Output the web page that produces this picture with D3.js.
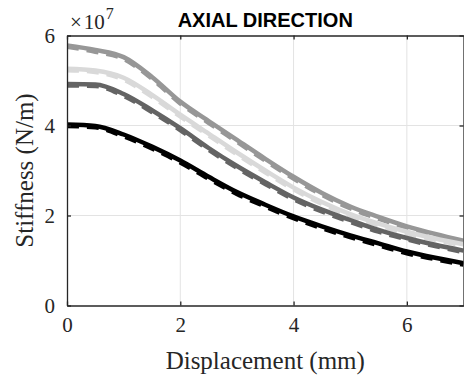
<!DOCTYPE html>
<html>
<head>
<meta charset="utf-8">
<script src="https://d3js.org/d3.v7.min.js"></script>
<style>
  body { margin: 0; background: #fff; }
  svg { display: block; }
</style>
</head>
<body>
<div id="chart"></div>
<script>
// displacement (mm)
var disp = [0, 0.5, 1, 1.5, 2, 2.5, 3, 3.5, 4, 4.5, 5, 5.5, 6, 6.5, 7];

// stiffness, in units of 1e7 N/m
var midGrey     = [5.78, 5.68, 5.52, 5.08, 4.53, 4.10, 3.68, 3.26, 2.86, 2.50, 2.20, 1.97, 1.76, 1.59, 1.44];
var midGreyDash = [5.75, 5.64, 5.48, 5.04, 4.49, 4.06, 3.64, 3.22, 2.82, 2.46, 2.16, 1.93, 1.73, 1.56, 1.41];
var lightGrey     = [5.26, 5.22, 5.06, 4.68, 4.24, 3.82, 3.40, 3.00, 2.62, 2.30, 2.03, 1.82, 1.64, 1.49, 1.36];
var lightGreyDash = [5.23, 5.19, 5.02, 4.64, 4.20, 3.78, 3.36, 2.96, 2.58, 2.26, 1.99, 1.78, 1.60, 1.46, 1.33];
var darkGrey     = [4.92, 4.91, 4.70, 4.34, 3.94, 3.50, 3.10, 2.74, 2.40, 2.13, 1.90, 1.68, 1.50, 1.35, 1.22];
var darkGreyDash = [4.89, 4.88, 4.66, 4.30, 3.90, 3.46, 3.06, 2.70, 2.36, 2.09, 1.86, 1.64, 1.47, 1.32, 1.19];
var black     = [4.02, 3.99, 3.80, 3.53, 3.22, 2.86, 2.52, 2.24, 1.98, 1.76, 1.56, 1.38, 1.20, 1.06, 0.94];
var blackDash = [3.99, 3.96, 3.76, 3.49, 3.18, 2.82, 2.48, 2.20, 1.94, 1.72, 1.52, 1.34, 1.16, 1.03, 0.91];

var xTicks = [0, 2, 4, 6];
var yTicks = [0, 2, 4, 6];

var series = [
  { vals: midGrey,       color: "#979797", dash: null },
  { vals: midGreyDash,   color: "#979797", dash: "12,8" },
  { vals: lightGrey,     color: "#d9d9d9", dash: null },
  { vals: lightGreyDash, color: "#d9d9d9", dash: "12,8" },
  { vals: darkGrey,      color: "#646464", dash: null },
  { vals: darkGreyDash,  color: "#646464", dash: "12,8" },
  { vals: black,         color: "#000000", dash: null },
  { vals: blackDash,     color: "#000000", dash: "12,8" }
];

var W = 464, H = 377;
var margin = { top: 35.5, right: 0.5, bottom: 71.5, left: 67 };
var width = W - margin.left - margin.right,
    height = H - margin.top - margin.bottom;
var serif = "'Liberation Serif', 'Times New Roman', serif";

var svg = d3.select("#chart").append("svg")
    .attr("width", W)
    .attr("height", H);

var g = svg.append("g")
    .attr("transform", "translate(" + margin.left + "," + margin.top + ")");

var x = d3.scaleLinear().domain([0, 7]).range([0, width]);
var y = d3.scaleLinear().domain([0, 6]).range([height, 0]);

// grid
g.selectAll(".gx").data(xTicks.slice(1)).enter().append("line")
    .attr("x1", function (d) { return x(d); }).attr("x2", function (d) { return x(d); })
    .attr("y1", 0).attr("y2", height)
    .style("stroke", "#e3e3e3").style("stroke-width", 1);
g.selectAll(".gy").data(yTicks.slice(1, -1)).enter().append("line")
    .attr("y1", function (d) { return y(d); }).attr("y2", function (d) { return y(d); })
    .attr("x1", 0).attr("x2", width)
    .style("stroke", "#e3e3e3").style("stroke-width", 1);

// curves
var line = d3.line()
    .x(function (d, i) { return x(disp[i]); })
    .y(function (d) { return y(d); })
    .curve(d3.curveMonotoneX);

svg.append("clipPath").attr("id", "clip")
    .append("rect").attr("x", 0).attr("y", 0).attr("width", width).attr("height", height);

g.append("g").attr("clip-path", "url(#clip)")
  .selectAll("path").data(series).enter().append("path")
    .attr("d", function (d) { return line(d.vals); })
    .style("fill", "none")
    .style("stroke", function (d) { return d.color; })
    .style("stroke-width", 4.5)
    .style("stroke-dasharray", function (d) { return d.dash; });

// axes (box with inward ticks)
var axCol = "#262626";
var tickSize = 4;
var fmt = d3.format("d");
var xb = g.append("g").attr("transform", "translate(0," + height + ")")
    .call(d3.axisBottom(x).tickValues(xTicks).tickFormat(fmt).tickSizeInner(-tickSize).tickSizeOuter(0).tickPadding(12));
var xt = g.append("g")
    .call(d3.axisTop(x).tickValues(xTicks).tickSizeInner(-tickSize).tickSizeOuter(0).tickFormat(""));
var yl = g.append("g")
    .call(d3.axisLeft(y).tickValues(yTicks).tickFormat(fmt).tickSizeInner(-tickSize).tickSizeOuter(0).tickPadding(12));
var yr = g.append("g").attr("transform", "translate(" + width + ",0)")
    .call(d3.axisRight(y).tickValues(yTicks).tickSizeInner(-tickSize).tickSizeOuter(0).tickFormat(""));

[xb, xt, yl, yr].forEach(function (a) {
  a.attr("font-family", serif).attr("font-size", 21);
  a.select(".domain").style("stroke", axCol).style("stroke-width", 1.3);
  a.selectAll(".tick line").style("stroke", axCol).style("stroke-width", 1.3);
  a.selectAll(".tick text").style("fill", axCol);
});

// exponent label
var ex = svg.append("text")
    .attr("x", margin.left + 3).attr("y", 29)
    .style("font-family", serif)
    .style("font-size", "21px")
    .style("fill", axCol);
ex.append("tspan").text("\u00d7");
ex.append("tspan").attr("dx", 2).text("10");
ex.append("tspan").attr("dx", 1).attr("dy", -10).style("font-size", "16px").text("7");

// title
svg.append("text")
    .attr("x", margin.left + width / 2).attr("y", 27)
    .attr("text-anchor", "middle")
    .style("font-family", "'Liberation Sans', Arial, sans-serif")
    .style("font-weight", "bold")
    .style("font-size", "20px")
    .style("fill", "#000")
    .text("AXIAL DIRECTION");

// axis labels
svg.append("text")
    .attr("x", margin.left + width / 2).attr("y", 369)
    .attr("text-anchor", "middle")
    .style("font-family", serif)
    .style("font-size", "25px")
    .style("fill", axCol)
    .text("Displacement (mm)");

svg.append("text")
    .attr("transform", "translate(33," + (margin.top + height / 2) + ") rotate(-90)")
    .attr("text-anchor", "middle")
    .style("font-family", serif)
    .style("font-size", "25px")
    .style("fill", axCol)
    .text("Stiffness (N/m)");
</script>
</body>
</html>
